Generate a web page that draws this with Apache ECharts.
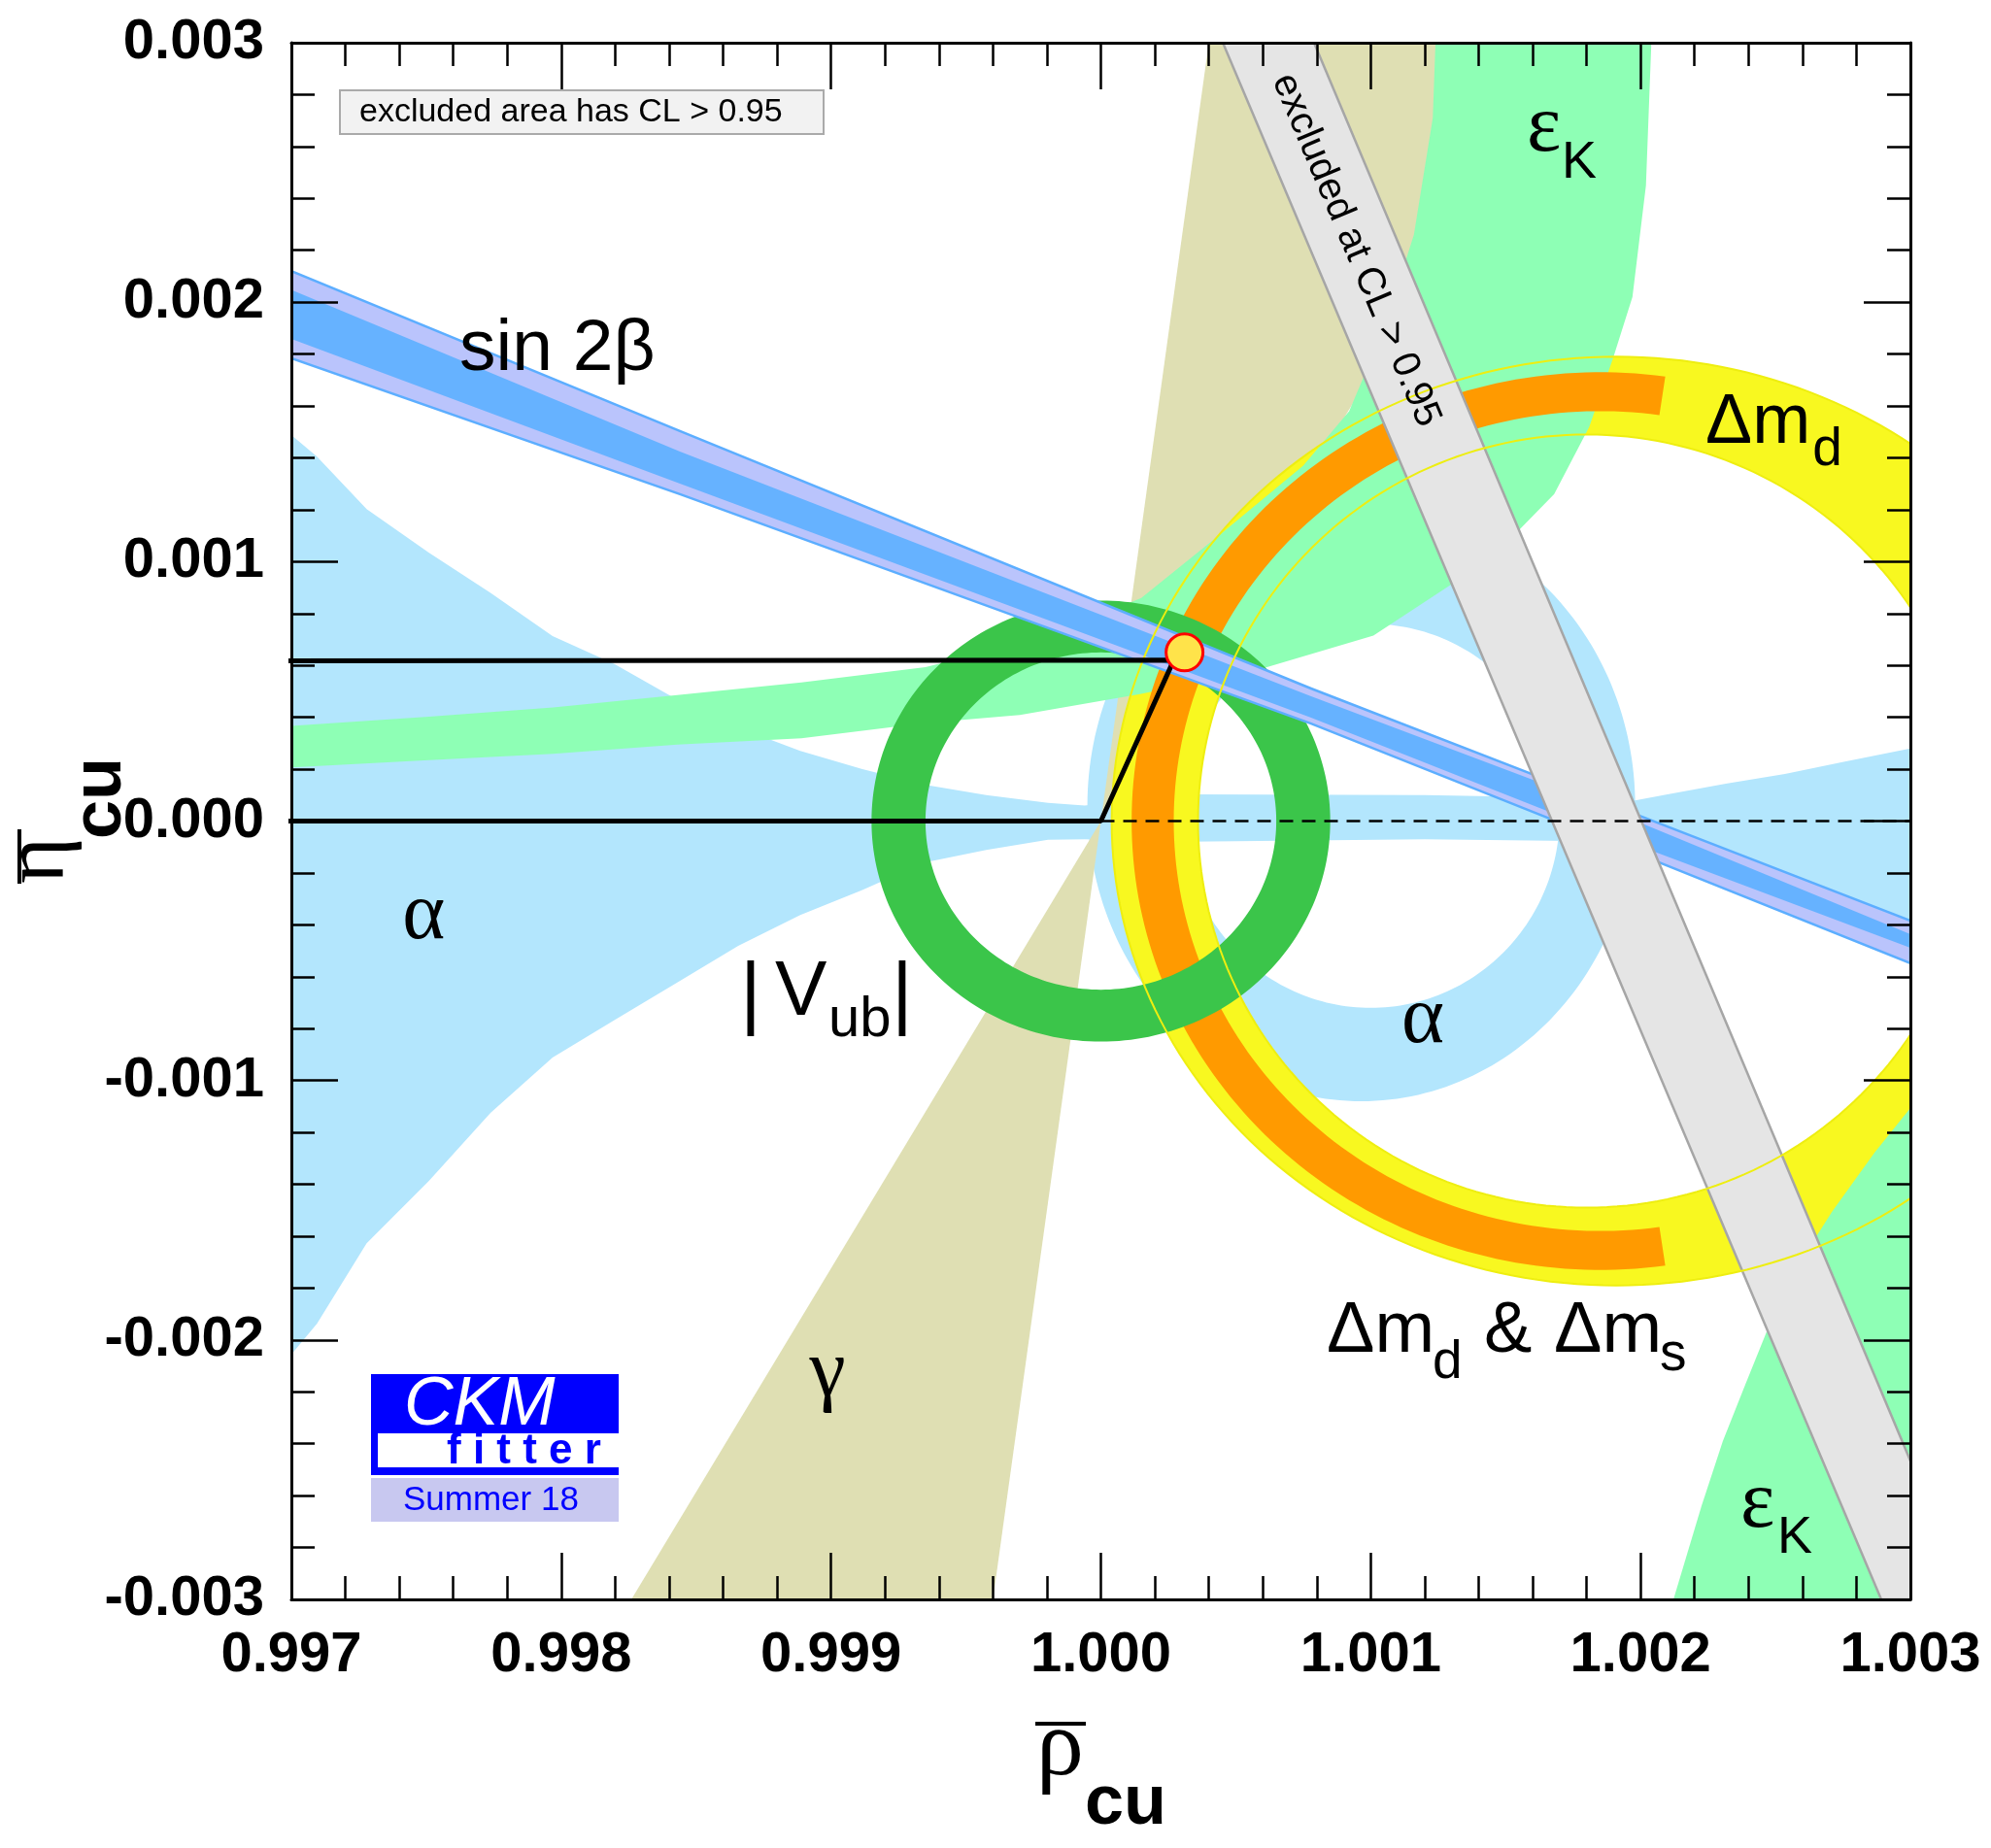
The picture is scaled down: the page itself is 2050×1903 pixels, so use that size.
<!DOCTYPE html>
<html>
<head>
<meta charset="utf-8">
<title>CKMfitter Summer 18 – rho_cu / eta_cu plane</title>
<script src="https://cdn.jsdelivr.net/npm/echarts@6/dist/echarts.min.js"></script>
<style>
html,body{margin:0;padding:0;background:#ffffff;}
#chart{width:2050px;height:1903px;}
</style>
</head>
<body>
<div id="chart"></div>
<script>
// ---------------- axis tick labels ----------------
const rhoTicks = ['0.997','0.998','0.999','1.000','1.001','1.002','1.003'];
const etaTicks = ['-0.003','-0.002','-0.001','0.000','0.001','0.002','0.003'];

// ---------------- constraint regions, [rho, eta] ----------------
// sin 2beta band (outer 95% CL and inner 68% CL edges)
const sin2bOuterTop = [[0.997,0.00212],[0.99844,0.001503],[1.000779,0.000511],[1.001744,0.000122],[1.003,-0.000384]];
const sin2bOuterBot = [[0.997,0.001784],[0.99844,0.00126],[1.000779,0.000376],[1.001744,-0.000024],[1.003,-0.000548]];
const sin2bInnerTop = [[0.997,0.002047],[0.99844,0.001424],[1.000779,0.000481],[1.001744,0.000103],[1.003,-0.000436]];
const sin2bInnerBot = [[0.997,0.001858],[0.99844,0.001301],[1.000779,0.000399],[1.001744,0.000002],[1.003,-0.000488]];

// gamma double wedge
const gammaUpper = [[1.0,0.0],[1.0004,0.003],[1.00174,0.003]];
const gammaLower = [[1.0,0.0],[0.99826,-0.003],[0.9996,-0.003]];

// alpha: wedges + thin band along eta = 0
const alphaTop = [[0.997,0.001488],[0.997095,0.001405],[0.997279,0.001202],[0.997509,0.001035],[0.997738,0.00088],
  [0.997968,0.000713],[0.998197,0.000605],[0.998427,0.00047],[0.998656,0.00036],[0.998886,0.00027],[0.999116,0.0002],
  [0.999345,0.00014],[0.999575,0.0001],[0.999804,0.00007],[0.99994,0.00006],[1.00032,0.000103],[1.0012,0.0001],
  [1.00175,0.00009],[1.00198,0.00008],[1.0021,0.000103],[1.002316,0.000144],[1.002535,0.000182],[1.002753,0.000228],[1.003,0.00028]];
const alphaBot = [[0.997,-0.002056],[0.997095,-0.001937],[0.997279,-0.001627],[0.997509,-0.001388],[0.997738,-0.001125],
  [0.997968,-0.000911],[0.998197,-0.000767],[0.998427,-0.000624],[0.998656,-0.000481],[0.998886,-0.000362],[0.999116,-0.000266],
  [0.999345,-0.00016],[0.999575,-0.000111],[0.999804,-0.000072],[0.99994,-0.00007],[1.00032,-0.00008],[1.0012,-0.00007],
  [1.00198,-0.00008],[1.003,-0.00045]];
// alpha ring: outer centre, radii, inner centre, radii
const alphaRing = [1.000965,0.00006,0.001015,0.00114, 1.001,0.00002,0.0007,0.00074];

// Delta m_d ring (outer ellipse, inner ellipse)
const dmdRing = [1.00191,0.0,0.00187,0.00179, 1.0018,0.0,0.00144,0.00149];
// Delta m_d & Delta m_s arc: centre, outer radii, inner radii, start/end angle (deg)
const dmsArc = [1.00185,0.0,0.001736,0.00173,0.00158,0.00158,82,278];
// |V_ub| ring
const vubRing = [1.0,0.0,0.00085,0.00085, 1.0,0.0,0.00065,0.00065];

// epsilon_K hyperbolic bands
const ekOuter = [[0.997,0.000207],[0.99751,0.000235],[0.99797,0.000259],[0.99843,0.000295],[0.99889,0.000319],[0.99935,0.000378],
  [0.9997,0.000409],[1.00014,0.000488],[1.00057,0.000579],[1.00101,0.000715],[1.00131,0.00092],[1.00152,0.00109],[1.00168,0.00126],
  [1.00181,0.00152],[1.0019,0.00179],[1.00197,0.00202],[1.00202,0.00245],[1.00204,0.003]];
const ekInner = [[1.00124,0.003],[1.00123,0.00271],[1.00116,0.00226],[1.00105,0.0019],[1.00092,0.00158],[1.00075,0.00137],
  [1.00046,0.00112],[1.00015,0.00086],[0.9998,0.00071],[0.99935,0.000593],[0.99889,0.000534],[0.99843,0.000486],[0.99797,0.000438],
  [0.99751,0.000402],[0.997,0.000367]];
const ekLower = [[1.002122,-0.003],[1.002226,-0.00264],[1.002305,-0.00239],[1.002385,-0.00218],[1.002482,-0.00193],[1.002579,-0.00172],
  [1.002709,-0.001507],[1.002867,-0.001278],[1.003,-0.001106],[1.003,-0.00272],[1.00295,-0.003]];

// excluded band
const excludedBand = [[1.000452,0.003],[1.00079,0.003],[1.003216,-0.003],[1.002892,-0.003]];

// unitarity triangle and real axis
const triangle = [[0,0],[1.0,0],[1.00027,0.00062],[0,0]];
const realAxis = [[1.0,0],[1.003,0]];
const apex = [[1.00031,0.00065]];

// ---------------- annotation texts and anchors ([rho, eta of baseline]) ----------------
const labelText = ['sin 2\u03b2','\u03b1','\u03b1','\u03b3','|','V','ub','|','\u0394m','d','\u0394m','d','&','\u0394m','s','\u03b5','K','\u03b5','K','excluded at CL > 0.95'];
const labelAt = [[0.997623,0.00172],[0.99749,-0.000477],[1.001193,-0.000874],[0.998987,-0.00224],
  [0.998702,-0.000784],[0.998792,-0.000765],[0.99899,-0.000844],[0.999264,-0.000784],
  [1.002241,0.001439],[1.002637,0.001357],
  [1.000837,-0.002064],[1.001229,-0.002158],[1.00142,-0.002064],[1.001679,-0.002064],[1.002071,-0.002131],
  [1.001578,0.002562],[1.001708,0.002468],[1.00237,-0.002745],[1.002507,-0.002832],
  [1.000945,0.0022]];

// ---------------- styles ----------------
const SANS = '"Liberation Sans", Arial, Helvetica, sans-serif';
const SERIF = '"Liberation Serif", "Times New Roman", Times, serif';
const labelFmt = [
  {s:75,f:SANS,a:'left'},{s:84,f:SERIF,a:'center'},{s:84,f:SERIF,a:'center'},{s:84,f:SERIF,a:'center'},
  {s:84,f:SANS,a:'center'},{s:80,f:SANS,a:'left'},{s:58,f:SANS,a:'left'},{s:84,f:SANS,a:'center'},
  {s:72,f:SANS,a:'left'},{s:55,f:SANS,a:'left'},
  {s:74,f:SANS,a:'left'},{s:55,f:SANS,a:'left'},{s:74,f:SANS,a:'left'},{s:74,f:SANS,a:'left'},{s:55,f:SANS,a:'left'},
  {s:84,f:SERIF,a:'left'},{s:54,f:SANS,a:'left'},{s:84,f:SERIF,a:'left'},{s:54,f:SANS,a:'left'},
  {s:40,f:SANS,a:'center',rot:-67.13,mid:true}
];
const C = {
  alpha:'#b3e6fd', gamma:'#dfdfb3', ek:'#8effb5', dmd:'#f8f820', dms:'#ff9a00', vub:'#3bc54a',
  sbOuter:'#bac4fc', sbInner:'#66b2ff', sbEdge:'#5caeff', excl:'#e5e5e5', exclEdge:'#a6a6a6'
};

// ---------------- helpers ----------------
function ellipsePts(api, cx, cy, rx, ry, a0, a1, n) {
  const out = [];
  for (let i = 0; i <= n; i++) {
    const t = (a0 + (a1 - a0) * i / n) * Math.PI / 180;
    out.push(api.coord([cx + rx * Math.cos(t), cy + ry * Math.sin(t)]));
  }
  return out;
}
function pathOf(pts, close) {
  return 'M' + pts.map(p => p[0].toFixed(2) + ' ' + p[1].toFixed(2)).join('L') + (close ? 'Z' : '');
}
function base(name, data, z) {
  return {name, type:'custom', coordinateSystem:'cartesian2d', xAxisIndex:0, yAxisIndex:0,
    clip:true, silent:true, animation:false, z:z, data:data};
}
function polySeries(name, pts, style, z) {
  const s = base(name, pts, z);
  s.renderItem = function (params, api) {
    if (params.dataIndex !== 0) return null;
    return {type:'polygon', shape:{points: pts.map(p => api.coord(p))}, style: style};
  };
  return s;
}
function ringSeries(name, r, style, z) {
  const s = base(name, [[r[0], r[1]]], z);
  s.renderItem = function (params, api) {
    const o = ellipsePts(api, r[0], r[1], r[2], r[3], 0, 360, 240);
    const i = ellipsePts(api, r[4], r[5], r[6], r[7], 360, 0, 240);
    return {type:'path', shape:{pathData: pathOf(o, true) + pathOf(i, true)}, style: style};
  };
  return s;
}
function ringLineSeries(name, r, style, z) {
  const s = base(name, [[r[0], r[1]]], z);
  s.renderItem = function (params, api) {
    const o = ellipsePts(api, r[0], r[1], r[2], r[3], 0, 360, 240);
    const i = ellipsePts(api, r[4], r[5], r[6], r[7], 0, 360, 240);
    return {type:'path', shape:{pathData: pathOf(o, true) + pathOf(i, true)}, style: style};
  };
  return s;
}
function arcSeries(name, a, style, z) {
  const s = base(name, [[a[0], a[1]]], z);
  s.renderItem = function (params, api) {
    const o = ellipsePts(api, a[0], a[1], a[2], a[3], a[6], a[7], 160);
    const i = ellipsePts(api, a[0], a[1], a[4], a[5], a[7], a[6], 160);
    return {type:'polygon', shape:{points: o.concat(i)}, style: style};
  };
  return s;
}

const alphaPoly = alphaTop.concat(alphaBot.slice().reverse());
const sbOuterPoly = sin2bOuterTop.concat(sin2bOuterBot.slice().reverse());
const sbInnerPoly = sin2bInnerTop.concat(sin2bInnerBot.slice().reverse());
const ekUpperPoly = ekOuter.concat(ekInner);

const labelSeries = {
  name:'labels', type:'custom', coordinateSystem:'cartesian2d', clip:false, silent:true, animation:false, z:60,
  data: labelAt,
  renderItem: function (params, api) {
    const k = params.dataIndex, f = labelFmt[k];
    const p = api.coord([api.value(0), api.value(1)]);
    const y = f.mid ? p[1] : p[1] - 0.34 * f.s;
    return {type:'text', x:p[0], y:y, rotation: f.rot ? f.rot * Math.PI / 180 : 0,
      style:{text: labelText[k], font: f.s + 'px ' + f.f, fill:'#000',
        align:f.a, verticalAlign:'middle', textAlign:f.a, textVerticalAlign:'middle'}};
  }
};

function axisCommon(showLabel) {
  return {
    type:'value', z:50,
    axisLine:{show:true, onZero:false, lineStyle:{color:'#000', width:3}},
    axisTick:{show:true, inside:true, length:48, lineStyle:{color:'#000', width:2.5}},
    minorTick:{show:true, splitNumber:5, length:24, lineStyle:{color:'#000', width:2.5}},
    splitLine:{show:false}, minorSplitLine:{show:false},
    axisLabel:{show:showLabel, fontSize:58, fontWeight:'bold', fontFamily:SANS, color:'#000'}
  };
}
const xBottom = Object.assign(axisCommon(true), {position:'bottom', min:0.997, max:1.003, interval:0.001});
xBottom.axisLabel.margin = 29;
xBottom.axisLabel.formatter = v => rhoTicks[Math.round((v - 0.997) / 0.001)];
const xTop = Object.assign(axisCommon(false), {position:'top', min:0.997, max:1.003, interval:0.001});
const yLeft = Object.assign(axisCommon(true), {position:'left', min:-0.003, max:0.003, interval:0.001});
yLeft.axisLabel.margin = 28;
yLeft.axisLabel.formatter = v => etaTicks[Math.round((v + 0.003) / 0.001)];
const yRight = Object.assign(axisCommon(false), {position:'right', min:-0.003, max:0.003, interval:0.001});

const chart = echarts.init(document.getElementById('chart'), null, {renderer:'canvas'});
chart.setOption({
  animation:false,
  backgroundColor:'#ffffff',
  grid:{left:300, right:83, top:44, bottom:256, containLabel:false, outerBoundsMode:'none'},
  xAxis:[xBottom, xTop],
  yAxis:[yLeft, yRight],
  series:[
    polySeries('alpha', alphaPoly, {fill:C.alpha}, 2),
    ringSeries('alpha ring', alphaRing, {fill:C.alpha}, 2),
    polySeries('gamma upper', gammaUpper, {fill:C.gamma}, 3),
    polySeries('gamma lower', gammaLower, {fill:C.gamma}, 3),
    ringSeries('dmd', dmdRing, {fill:C.dmd}, 4),
    polySeries('epsK upper', ekUpperPoly, {fill:C.ek}, 5),
    polySeries('epsK lower', ekLower, {fill:C.ek}, 5),
    arcSeries('dmd & dms', dmsArc, {fill:C.dms}, 6),
    ringSeries('Vub', vubRing, {fill:C.vub}, 7),
    polySeries('sin2b outer', sbOuterPoly, {fill:C.sbOuter, stroke:C.sbEdge, lineWidth:2.5}, 8),
    polySeries('sin2b inner', sbInnerPoly, {fill:C.sbInner}, 8),
    polySeries('excluded', excludedBand, {fill:C.excl, stroke:C.exclEdge, lineWidth:2.5}, 9),
    ringLineSeries('dmd edges', dmdRing, {fill:'none', stroke:'#eeee10', lineWidth:2}, 10),
    {type:'line', name:'triangle', data:triangle, symbol:'none', showSymbol:false, clip:true, silent:true, animation:false, z:20,
      lineStyle:{color:'#000', width:5}},
    {type:'line', name:'real axis', data:realAxis, symbol:'none', showSymbol:false, clip:true, silent:true, animation:false, z:20,
      lineStyle:{color:'#000', width:2.5, type:[14,9]}},
    {type:'scatter', name:'apex', data:apex, symbol:'circle', symbolSize:38, silent:true, animation:false, z:30,
      itemStyle:{color:'#ffe34a', borderColor:'#ff0000', borderWidth:3, opacity:1}},
    labelSeries
  ],
  graphic:[
    // legend box
    {type:'rect', z:100, shape:{x:350, y:93, width:498, height:45}, style:{fill:'#f2f2f2', stroke:'#aaaaaa', lineWidth:2}},
    {type:'text', z:101, x:370, y:116, style:{text:'excluded area has CL > 0.95', font:'34px ' + SANS, fill:'#000',
      align:'left', verticalAlign:'middle', textAlign:'left', textVerticalAlign:'middle'}},
    // CKMfitter logo
    {type:'rect', z:100, shape:{x:382, y:1415, width:255, height:61}, style:{fill:'#0000ff'}},
    {type:'text', z:101, x:416, y:1471 - 0.34*70, style:{text:'CKM', font:'italic 70px ' + SANS, fill:'#ffffff',
      align:'left', verticalAlign:'middle', textAlign:'left', textVerticalAlign:'middle'}},
    {type:'rect', z:100, shape:{x:382, y:1476, width:255, height:43}, style:{fill:'#ffffff'}},
    {type:'rect', z:101, shape:{x:382, y:1476, width:7, height:43}, style:{fill:'#0000ff'}},
    {type:'rect', z:101, shape:{x:382, y:1511, width:255, height:8}, style:{fill:'#0000ff'}},
    {type:'text', z:102, x:460, y:1510 - 0.34*44, style:{text:'f i t t e r', font:'bold 44px ' + SANS, fill:'#0000ff',
      align:'left', verticalAlign:'middle', textAlign:'left', textVerticalAlign:'middle'}},
    {type:'rect', z:100, shape:{x:382, y:1522, width:255, height:45}, style:{fill:'#c8c8f0'}},
    {type:'text', z:101, x:415, y:1557 - 0.34*35, style:{text:'Summer 18', font:'35px ' + SANS, fill:'#0000ff',
      align:'left', verticalAlign:'middle', textAlign:'left', textVerticalAlign:'middle'}},
    // x-axis title: rho-bar_cu
    {type:'text', z:101, x:1067, y:1835 - 0.34*98, style:{text:'\u03c1', font:'98px ' + SERIF, fill:'#000',
      align:'left', verticalAlign:'middle', textAlign:'left', textVerticalAlign:'middle'}},
    {type:'line', z:101, shape:{x1:1066, y1:1775, x2:1118, y2:1775}, style:{stroke:'#000', lineWidth:4}},
    {type:'text', z:101, x:1117, y:1883 - 0.34*72, style:{text:'cu', font:'bold 72px ' + SANS, fill:'#000',
      align:'left', verticalAlign:'middle', textAlign:'left', textVerticalAlign:'middle'}},
    // y-axis title: eta-bar_cu (rotated)
    {type:'group', z:101, x:72, y:910, rotation:Math.PI/2, children:[
      {type:'text', x:0, y:-0.34*92, style:{text:'\u03b7', font:'92px ' + SERIF, fill:'#000',
        align:'left', verticalAlign:'middle', textAlign:'left', textVerticalAlign:'middle'}},
      {type:'line', shape:{x1:0, y1:-52, x2:56, y2:-52}, style:{stroke:'#000', lineWidth:4}},
      {type:'text', x:46, y:57 - 0.34*72, style:{text:'cu', font:'bold 72px ' + SANS, fill:'#000',
        align:'left', verticalAlign:'middle', textAlign:'left', textVerticalAlign:'middle'}}
    ]}
  ]
});
</script>
</body>
</html>
